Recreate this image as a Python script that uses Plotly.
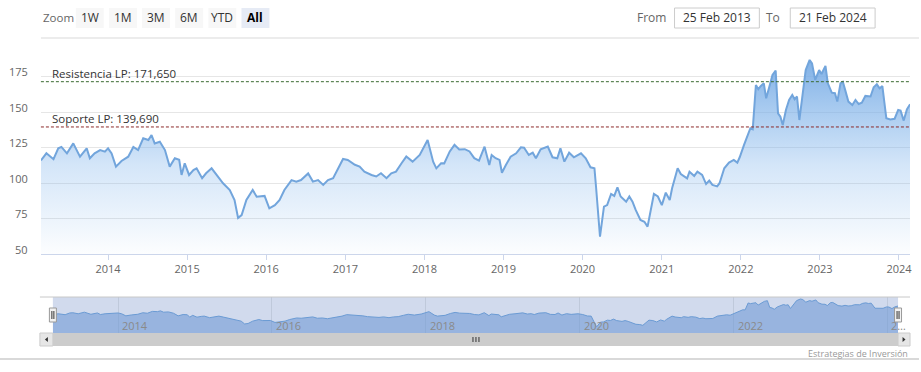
import plotly.graph_objects as go
from datetime import datetime, timedelta

W, H = 921, 372


def px(x):
    return x / W


def py(y):
    return 1 - y / H


# ---------------- data ----------------
t_years = [
    2013.151, 2013.22, 2013.31, 2013.37, 2013.41, 2013.48, 2013.56, 2013.645, 2013.73, 2013.77,
    2013.83, 2013.90, 2013.96, 2014.00, 2014.045, 2014.10, 2014.17, 2014.255, 2014.32, 2014.38,
    2014.445, 2014.51, 2014.55, 2014.59, 2014.655, 2014.72, 2014.78, 2014.845, 2014.90, 2014.93,
    2014.97, 2015.025, 2015.08, 2015.12, 2015.19, 2015.24, 2015.31, 2015.37, 2015.455, 2015.54,
    2015.60, 2015.645, 2015.69, 2015.75, 2015.83, 2015.88, 2015.94, 2015.98, 2016.04, 2016.11,
    2016.17, 2016.23, 2016.32, 2016.38, 2016.44, 2016.53, 2016.59, 2016.655, 2016.72, 2016.78,
    2016.845, 2016.91, 2016.97, 2017.03, 2017.12, 2017.18, 2017.24, 2017.33, 2017.39, 2017.45,
    2017.52, 2017.58, 2017.64, 2017.71, 2017.77, 2017.85, 2017.94, 2018.04, 2018.11, 2018.15,
    2018.21, 2018.25, 2018.32, 2018.38, 2018.44, 2018.51, 2018.57, 2018.63, 2018.69, 2018.76,
    2018.82, 2018.85, 2018.90, 2018.95, 2018.98, 2019.03, 2019.09, 2019.16, 2019.22, 2019.26,
    2019.32, 2019.37, 2019.41, 2019.47, 2019.56, 2019.62, 2019.68, 2019.72, 2019.77, 2019.83,
    2019.89, 2019.98, 2020.04, 2020.10, 2020.15, 2020.17, 2020.19, 2020.22, 2020.27, 2020.31,
    2020.36, 2020.40, 2020.44, 2020.48, 2020.55, 2020.59, 2020.63, 2020.67, 2020.73, 2020.78,
    2020.82, 2020.86, 2020.90, 2020.95, 2021.00, 2021.05, 2021.10, 2021.13, 2021.20, 2021.24,
    2021.28, 2021.32, 2021.35, 2021.41, 2021.45, 2021.51, 2021.56, 2021.60, 2021.64, 2021.70,
    2021.73, 2021.79, 2021.85, 2021.91, 2021.955, 2021.985, 2022.04, 2022.09, 2022.12, 2022.15,
    2022.19, 2022.22, 2022.25, 2022.29, 2022.32, 2022.355, 2022.40, 2022.44, 2022.47, 2022.50,
    2022.53, 2022.57, 2022.61, 2022.65, 2022.68, 2022.71, 2022.74, 2022.775, 2022.82, 2022.87,
    2022.90, 2022.94, 2022.99, 2023.02, 2023.07, 2023.10, 2023.15, 2023.19, 2023.22, 2023.26,
    2023.29, 2023.32, 2023.36, 2023.41, 2023.45, 2023.49, 2023.53, 2023.575, 2023.64, 2023.68,
    2023.72, 2023.755, 2023.79, 2023.84, 2023.89, 2023.945, 2023.99, 2024.02, 2024.06, 2024.10,
    2024.14,
]
prices = [
    116.0, 121.1, 116.9, 124.6, 125.6, 121.1, 128.1, 118.7, 124.6, 117.6,
    121.1, 123.4, 122.3, 124.6, 121.0, 111.7, 115.7, 118.7, 125.6, 123.4,
    131.7, 130.5, 134.0, 128.1, 129.3, 123.4, 111.7, 117.6, 116.5, 105.8,
    114.0, 105.8, 109.3, 110.5, 103.5, 107.0, 110.5, 106.0, 99.9, 95.2,
    88.1, 75.5, 77.5, 88.1, 95.2, 90.5, 90.5, 91.0, 82.2, 84.5,
    88.1, 95.2, 102.2, 101.1, 102.2, 106.9, 101.1, 102.2, 98.8, 102.2,
    103.5, 110.5, 117.1, 116.4, 113.0, 111.7, 108.2, 105.8, 104.7, 107.0,
    103.5, 107.0, 108.2, 114.1, 118.8, 115.2, 119.9, 130.5, 115.2, 110.5,
    114.1, 114.0, 122.4, 127.1, 123.8, 124.0, 122.4, 117.7, 116.0, 125.8,
    112.8, 119.9, 117.6, 116.4, 107.4, 112.8, 118.7, 121.1, 125.3, 125.1,
    119.9, 121.5, 117.6, 123.9, 125.8, 118.3, 117.6, 124.6, 115.2, 121.5,
    118.3, 121.1, 117.6, 111.2, 110.5, 97.5, 81.1, 62.2, 83.4, 84.5,
    92.4, 91.0, 97.1, 90.6, 86.9, 90.6, 86.9, 81.1, 74.0, 72.8,
    69.3, 81.1, 92.4, 90.6, 84.5, 93.3, 88.1, 96.4, 110.5, 106.5,
    105.1, 103.4, 108.1, 105.1, 108.1, 105.8, 99.4, 101.8, 98.8, 97.7,
    100.0, 110.5, 114.5, 116.4, 114.5, 118.3, 127.0, 134.7, 138.8, 138.1,
    169.3, 166.3, 168.5, 170.5, 159.9, 167.0, 176.4, 179.5, 149.3, 147.0,
    141.1, 151.7, 158.8, 162.3, 159.2, 161.2, 144.6, 160.0, 179.9, 187.0,
    184.6, 172.9, 179.9, 177.1, 182.8, 170.5, 163.9, 163.5, 157.6, 170.5,
    171.6, 165.7, 157.6, 155.2, 158.8, 155.9, 156.8, 161.6, 161.2, 167.7,
    169.8, 167.0, 168.5, 145.8, 145.0, 145.5, 151.7, 151.2, 144.2, 152.1,
    155.7,
]

y_ticks = [50, 75, 100, 125, 150, 175]
x_tick_years = [2014, 2015, 2016, 2017, 2018, 2019, 2020, 2021, 2022, 2023, 2024]
nav_tick_years = [2014, 2016, 2018, 2020, 2022, 2024]
nav_tick_text = ["2014", "2016", "2018", "2020", "2022", "2…"]

resistance_value = 171.65
support_value = 139.69
resistance_label = "Resistencia LP: 171,650"
support_label = "Soporte LP: 139,690"

zoom_buttons = ["1W", "1M", "3M", "6M", "YTD", "All"]
selected_button = "All"
date_from = "25 Feb 2013"
date_to = "21 Feb 2024"
range_start = "2013-02-25"
range_end = "2024-02-21"
credit_text = "Estrategias de Inversión"


def to_date(t):
    y = int(t)
    start = datetime(y, 1, 1)
    ndays = (datetime(y + 1, 1, 1) - start).days
    return start + timedelta(days=(t - y) * ndays)


dates = [to_date(t) for t in t_years]

FONT = "Open Sans, Verdana, sans-serif"

fig = go.Figure()

# main series
fig.add_trace(go.Scatter(
    x=dates, y=prices, mode="lines",
    line=dict(color="#72a5dc", width=2),
    fill="tozeroy",
    fillgradient=dict(
        type="vertical",
        colorscale=[[0, "rgba(124,178,235,0.02)"], [0.45, "rgba(124,178,235,0.33)"],
                    [1, "rgba(118,170,228,0.95)"]],
        start=50, stop=190,
    ),
    hoverinfo="skip", showlegend=False, xaxis="x", yaxis="y",
))

# navigator series
fig.add_trace(go.Scatter(
    x=dates, y=prices, mode="lines",
    line=dict(color="#6b9bd4", width=1),
    fill="tozeroy", fillcolor="rgba(105,150,212,0.55)",
    hoverinfo="skip", showlegend=False, xaxis="x2", yaxis="y2",
))

shapes = []
annotations = []

# support / resistance plot lines
for val, col in [(resistance_value, "#3b6b32"), (support_value, "#8b2a2a")]:
    shapes.append(dict(type="line", xref="x domain", yref="y", x0=0, x1=1, y0=val, y1=val,
                       line=dict(color=col, width=1, dash="3px,2px"), layer="above"))
for val, txt in [(resistance_value, resistance_label), (support_value, support_label)]:
    annotations.append(dict(xref="paper", yref="y", x=px(50), y=val, xanchor="left",
                            yanchor="middle", yshift=8, text=txt, showarrow=False,
                            font=dict(family=FONT, size=11.5, color="#333333")))

# y-axis labels (drawn above their grid lines, as in the reference)
for v in y_ticks:
    annotations.append(dict(xref="paper", yref="y", x=px(30), y=v, xanchor="right",
                            yanchor="middle", yshift=5, text=str(v), showarrow=False,
                            font=dict(family=FONT, size=11, color="#666666")))

# navigator axis labels (inside, right of their grid lines)
for yr, txt in zip(nav_tick_years, nav_tick_text):
    annotations.append(dict(xref="x2", yref="paper", x=datetime(yr, 1, 1), y=py(325.5),
                            xanchor="left", yanchor="middle", xshift=2, text=txt,
                            showarrow=False,
                            font=dict(family=FONT, size=11, color="#8a8a8a")))

# top faint separator
shapes.append(dict(type="line", xref="paper", yref="paper", x0=px(41), x1=px(921),
                   y0=py(38), y1=py(38), line=dict(color="#ececec", width=2)))

# zoom label and buttons
annotations.append(dict(xref="paper", yref="paper", x=px(41), y=py(18), xanchor="left",
                        yanchor="middle", text="Zoom", showarrow=False,
                        font=dict(family=FONT, size=11.5, color="#666666")))
for i, b in enumerate(zoom_buttons):
    x0 = 76 + 33.2 * i
    sel = b == selected_button
    shapes.append(dict(type="rect", xref="paper", yref="paper", x0=px(x0), x1=px(x0 + 28),
                       y0=py(28), y1=py(8), line=dict(width=0),
                       fillcolor="#e6ebf5" if sel else "#f7f7f7"))
    annotations.append(dict(xref="paper", yref="paper", x=px(x0 + 14), y=py(18),
                            xanchor="center", yanchor="middle",
                            text=f"<b>{b}</b>" if sel else b, showarrow=False,
                            font=dict(family=FONT, size=12, color="#000000" if sel else "#333333")))

# date inputs
annotations.append(dict(xref="paper", yref="paper", x=px(669), y=py(18), xanchor="right",
                        yanchor="middle", text="From", showarrow=False,
                        font=dict(family=FONT, size=12, color="#666666")))
annotations.append(dict(xref="paper", yref="paper", x=px(784), y=py(18), xanchor="right",
                        yanchor="middle", text="To", showarrow=False,
                        font=dict(family=FONT, size=12, color="#666666")))
for (x0, x1), txt in [((676, 761), date_from), ((792, 877), date_to)]:
    shapes.append(dict(type="rect", xref="paper", yref="paper", x0=px(x0), x1=px(x1),
                       y0=py(28), y1=py(8), line=dict(color="#cccccc", width=1),
                       fillcolor="#ffffff"))
    annotations.append(dict(xref="paper", yref="paper", x=px((x0 + x1) / 2), y=py(18),
                            xanchor="center", yanchor="middle", text=txt, showarrow=False,
                            font=dict(family=FONT, size=12, color="#333333")))

# navigator mask (below grid)
shapes.append(dict(type="rect", xref="paper", yref="paper", x0=px(53), x1=px(900),
                   y0=py(333), y1=py(297), line=dict(width=0),
                   fillcolor="rgba(102,133,194,0.3)", layer="below"))
# navigator outline top
shapes.append(dict(type="line", xref="paper", yref="paper", x0=px(40), x1=px(912),
                   y0=py(297), y1=py(297), line=dict(color="#c8c8c8", width=1)))
# handles
for cx in [53, 900]:
    shapes.append(dict(type="rect", xref="paper", yref="paper", x0=px(cx - 3.5), x1=px(cx + 3.5),
                       y0=py(322), y1=py(308), line=dict(color="#999999", width=1),
                       fillcolor="#f2f2f2"))
    for dx in (-1, 1):
        shapes.append(dict(type="line", xref="paper", yref="paper", x0=px(cx + dx), x1=px(cx + dx),
                           y0=py(319), y1=py(311), line=dict(color="#333333", width=1)))

# scrollbar
shapes.append(dict(type="rect", xref="paper", yref="paper", x0=px(40), x1=px(912),
                   y0=py(346), y1=py(333), line=dict(width=0), fillcolor="#cccccc"))
for x0, x1 in [(40, 53), (900, 912)]:
    shapes.append(dict(type="rect", xref="paper", yref="paper", x0=px(x0), x1=px(x1),
                       y0=py(346), y1=py(333), line=dict(color="#cccccc", width=1),
                       fillcolor="#e6e6e6"))
shapes.append(dict(type="path", xref="paper", yref="paper",
                   path=f"M {px(45)} {py(339.5)} L {px(48)} {py(337)} L {px(48)} {py(342)} Z",
                   fillcolor="#333333", line=dict(width=0)))
shapes.append(dict(type="path", xref="paper", yref="paper",
                   path=f"M {px(907.5)} {py(339.5)} L {px(904.5)} {py(337)} L {px(904.5)} {py(342)} Z",
                   fillcolor="#333333", line=dict(width=0)))
for xr in (474, 477, 480):
    shapes.append(dict(type="line", xref="paper", yref="paper", x0=px(xr), x1=px(xr),
                       y0=py(342), y1=py(337), line=dict(color="#333333", width=1)))

# credits and bottom rule
annotations.append(dict(xref="paper", yref="paper", x=px(912), y=py(353), xanchor="right",
                        yanchor="middle", text=credit_text, showarrow=False,
                        font=dict(family=FONT, size=9, color="#999999")))
shapes.append(dict(type="line", xref="paper", yref="paper", x0=0, x1=1,
                   y0=py(359), y1=py(359), line=dict(color="#cccccc", width=1.5)))

fig.update_layout(
    width=W, height=H,
    margin=dict(l=0, r=0, t=0, b=0),
    paper_bgcolor="#ffffff", plot_bgcolor="#ffffff",
    showlegend=False,
    font=dict(family=FONT),
    shapes=shapes, annotations=annotations,
    xaxis=dict(
        domain=[px(41), px(912)], anchor="y", type="date",
        range=[range_start, range_end],
        tickvals=[datetime(y, 1, 1) for y in x_tick_years],
        ticktext=[str(y) for y in x_tick_years],
        ticks="outside", ticklen=5, tickcolor="#ccd6eb",
        showline=True, linecolor="#ccd6eb", linewidth=1,
        showgrid=False, zeroline=False,
        tickfont=dict(family=FONT, size=11, color="#666666"),
    ),
    yaxis=dict(
        domain=[py(254), py(38)], anchor="x",
        range=[50, 202.5],
        tickvals=y_ticks, showticklabels=False,
        showgrid=True, gridcolor="#e6e6e6", gridwidth=1,
        zeroline=False, showline=False, ticks="",
    ),
    xaxis2=dict(
        domain=[px(53), px(900)], anchor="y2", type="date",
        range=[range_start, range_end],
        tickvals=[datetime(y, 1, 1) for y in nav_tick_years],
        showticklabels=False,
        ticks="", showline=False, zeroline=False,
        showgrid=True, gridcolor="#bfc9db", gridwidth=1,
    ),
    yaxis2=dict(
        domain=[py(333), py(297)], anchor="x2",
        range=[35, 196], visible=False, showgrid=False, zeroline=False,
    ),
)

fig.write_html("out.html", config={"displayModeBar": False},
               post_script="document.body.style.margin='0';")
